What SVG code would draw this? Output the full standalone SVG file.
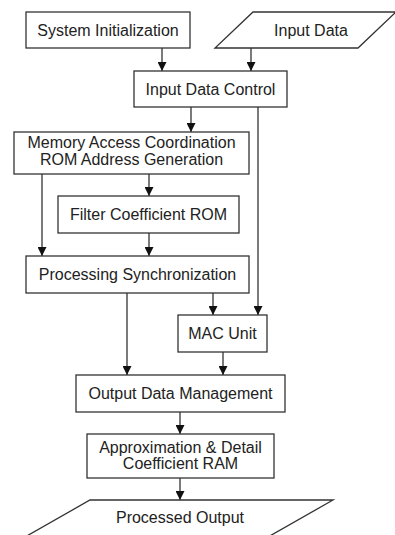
<svg xmlns="http://www.w3.org/2000/svg" width="395" height="535" viewBox="0 0 395 535">
<defs>
<style>
.box{fill:#fff;stroke:#333;stroke-width:1.3}
.t{font-family:"Liberation Sans",Arial,sans-serif;font-size:16px;fill:#222;text-anchor:middle}
.c{fill:none;stroke:#333;stroke-width:1.3}
</style>
<marker id="ah" viewBox="0 0 10 10" refX="10" refY="5" markerWidth="9" markerHeight="9" markerUnits="userSpaceOnUse" orient="auto">
<path d="M0,0 L10,5 L0,10 Z" fill="#111"/>
</marker>
</defs>
<rect width="395" height="535" fill="#fff"/>
<g id="connectors">
<path class="c" d="M162,48 V71" marker-end="url(#ah)"/>
<path class="c" d="M251,48 V71" marker-end="url(#ah)"/>
<path class="c" d="M191,107 V132" marker-end="url(#ah)"/>
<path class="c" d="M258,107 V315" marker-end="url(#ah)"/>
<path class="c" d="M149,174 V196" marker-end="url(#ah)"/>
<path class="c" d="M42,174 V256" marker-end="url(#ah)"/>
<path class="c" d="M149,233 V256" marker-end="url(#ah)"/>
<path class="c" d="M127,293 V375" marker-end="url(#ah)"/>
<path class="c" d="M213,293 V315" marker-end="url(#ah)"/>
<path class="c" d="M223,352 V375" marker-end="url(#ah)"/>
<path class="c" d="M180,412 V434" marker-end="url(#ah)"/>
<path class="c" d="M180,478 V500" marker-end="url(#ah)"/>
</g>
<g id="system-init">
<rect class="box" x="26" y="12" width="164" height="36"/>
<text class="t" x="108" y="35.5">System Initialization</text>
</g>
<g id="input-data">
<polygon class="box" points="253,12 396,12 358,48 215,48"/>
<text class="t" x="311" y="35.5">Input Data</text>
</g>
<g id="input-data-control">
<rect class="box" x="134" y="71" width="153" height="36"/>
<text class="t" x="210.5" y="94.5">Input Data Control</text>
</g>
<g id="memory-access">
<rect class="box" x="14" y="132" width="235" height="42"/>
<text class="t" x="131.5" y="148">Memory Access Coordination</text>
<text class="t" x="131.5" y="165">ROM Address Generation</text>
</g>
<g id="filter-rom">
<rect class="box" x="58" y="196" width="181" height="37"/>
<text class="t" x="148.5" y="220">Filter Coefficient ROM</text>
</g>
<g id="processing-sync">
<rect class="box" x="26" y="256" width="223" height="37"/>
<text class="t" x="137.5" y="280">Processing Synchronization</text>
</g>
<g id="mac-unit">
<rect class="box" x="178" y="315" width="89" height="37"/>
<text class="t" x="222.5" y="339">MAC Unit</text>
</g>
<g id="output-data-mgmt">
<rect class="box" x="76" y="375" width="209" height="37"/>
<text class="t" x="180.5" y="399">Output Data Management</text>
</g>
<g id="coef-ram">
<rect class="box" x="87" y="434" width="187" height="44"/>
<text class="t" x="180.5" y="452.5">Approximation &amp; Detail</text>
<text class="t" x="180.5" y="468.5">Coefficient RAM</text>
</g>
<g id="processed-output">
<polygon class="box" points="90,500 333,500 268,537 25,537"/>
<text class="t" x="180" y="523">Processed Output</text>
</g>
</svg>
